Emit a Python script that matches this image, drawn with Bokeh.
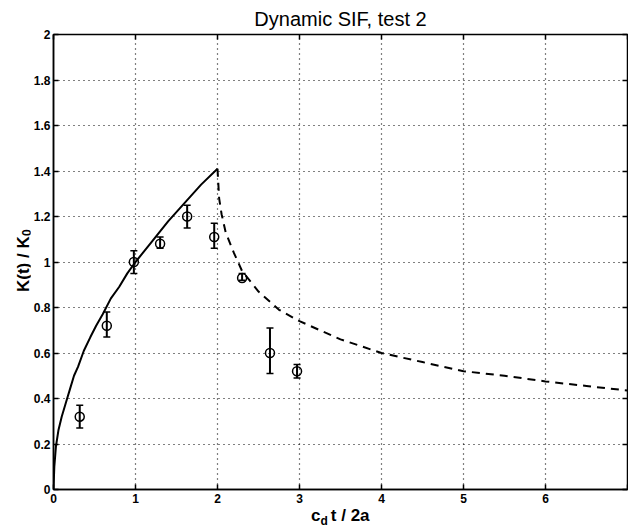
from bokeh.plotting import figure
from bokeh.layouts import row, column
from bokeh.models import (ColumnDataSource, Whisker, TeeHead, FixedTicker, LinearAxis,
                          Range1d, Div)
from bokeh.embed import file_html
from bokeh.resources import INLINE

# ---- data ----
# theoretical curve before t = 2 (solid)
t_solid = [0.0, 0.01, 0.03, 0.06, 0.1, 0.15, 0.2, 0.25, 0.3, 0.37, 0.45, 0.52, 0.6, 0.7, 0.8,
           0.9, 1.0, 1.2, 1.4, 1.6, 1.8, 2.0]
k_solid = [0.0, 0.10, 0.19, 0.26, 0.32, 0.38, 0.44, 0.50, 0.54, 0.61, 0.67, 0.72, 0.77, 0.84, 0.89,
           0.95, 1.0, 1.09, 1.18, 1.26, 1.34, 1.41]
# theoretical curve after t = 2 (dashed)
t_dash = [2.0, 2.02, 2.05, 2.1, 2.2, 2.3, 2.5, 2.75, 3.0, 3.5, 4.0, 4.5, 5.0, 5.5, 6.0, 6.5, 7.0]
k_dash = [1.41, 1.28, 1.21, 1.13, 1.04, 0.96, 0.87, 0.79, 0.74, 0.66, 0.60, 0.56, 0.52, 0.50, 0.475, 0.455, 0.435]
# measured points with error bars
t_meas = [0.32, 0.65, 0.98, 1.30, 1.63, 1.96, 2.30, 2.64, 2.97]
k_meas = [0.32, 0.72, 1.00, 1.08, 1.20, 1.11, 0.93, 0.60, 0.52]
k_lo = [0.27, 0.67, 0.95, 1.06, 1.15, 1.06, 0.92, 0.51, 0.49]
k_hi = [0.37, 0.78, 1.05, 1.11, 1.25, 1.17, 0.95, 0.71, 0.55]

x_ticks = [0, 1, 2, 3, 4, 5, 6, 7]
y_ticks = [0, 0.2, 0.4, 0.6, 0.8, 1.0, 1.2, 1.4, 1.6, 1.8, 2.0]

title_text = "Dynamic SIF, test 2"
x_label_main, x_label_sub, x_label_rest = "c", "d", "t / 2a"
y_label_main, y_label_sub = "K(t) / K", "0"

FONT = "Liberation Sans"
LEFT_W = 30

p = figure(width=628 - LEFT_W, height=509, output_backend="svg", toolbar_location=None,
           x_range=Range1d(0, 7), y_range=Range1d(0, 2),
           min_border_left=23, min_border_right=1, min_border_top=34, min_border_bottom=20,
           title=title_text, margin=0)
p.title.align = "center"
p.title.text_font = FONT
p.title.text_font_size = "20px"
p.title.text_font_style = "normal"
p.title.text_color = "black"
p.title.standoff = 10

p.background_fill_color = "white"
p.border_fill_color = "white"
p.outline_line_color = "black"
p.outline_line_width = 1.5

for ax in (p.xaxis[0], p.yaxis[0]):
    ax.major_tick_in = 5
    ax.major_tick_out = 0
    ax.minor_tick_line_color = None
    ax.axis_line_color = "black"
    ax.axis_line_width = 1.5
    ax.major_tick_line_color = "black"
    ax.major_tick_line_width = 1.5
    ax.major_label_text_font = FONT
    ax.major_label_text_font_style = "bold"
    ax.major_label_text_font_size = "12px"
    ax.major_label_text_color = "black"

p.xaxis.major_label_standoff = 4
p.yaxis.major_label_standoff = 3
p.xaxis.ticker = FixedTicker(ticks=x_ticks)
p.yaxis.ticker = FixedTicker(ticks=y_ticks)
p.xaxis.major_label_overrides = {7: ""}
p.yaxis.major_label_overrides = {0: "0", 1: "1", 2: "2"}

for loc in ("right", "above"):
    ax = LinearAxis(ticker=FixedTicker(ticks=x_ticks if loc == "above" else y_ticks))
    ax.major_tick_in = 5
    ax.major_tick_out = 0
    ax.minor_tick_line_color = None
    ax.axis_line_color = None
    ax.major_tick_line_color = "black"
    ax.major_tick_line_width = 1.5
    ax.major_label_text_font_size = "0px"
    ax.major_label_text_color = None
    ax.major_label_standoff = 0
    p.add_layout(ax, loc)

p.grid.grid_line_color = "black"
p.grid.grid_line_dash = "1 4"
p.grid.grid_line_width = 1.2
p.grid.grid_line_alpha = 1.0

# curves
p.line(t_solid, k_solid, line_color="black", line_width=2)
p.line(t_dash, k_dash, line_color="black", line_width=2, line_dash="8 6")

# measured points
src = ColumnDataSource(dict(t=t_meas, k=k_meas, lo=k_lo, hi=k_hi))
wh = Whisker(source=src, base="t", upper="hi", lower="lo", dimension="height",
             line_color="black", line_width=2,
             upper_head=TeeHead(size=7, line_width=1.5, line_color="black"),
             lower_head=TeeHead(size=7, line_width=1.5, line_color="black"))
p.add_layout(wh)
p.scatter("t", "k", source=src, marker="circle", size=9, fill_color=None,
          line_color="black", line_width=1.5)

# axis labels with real subscripts (HTML text)
font_css = f"font-family:'{FONT}',Arial,sans-serif;font-weight:bold;color:#000;"
xdiv = Div(
    text=(f'<div style="{font_css}font-size:17px;line-height:17px;height:17px;'
          f'white-space:nowrap;padding-left:281px;position:relative;top:-2px;">'
          f'{x_label_main}<span style="font-size:12px;position:relative;top:4px;">'
          f'{x_label_sub}</span><span style="margin-left:3px;">{x_label_rest}</span></div>'),
    width=628 - LEFT_W, height=19, margin=0, styles={"overflow": "visible"})
ydiv = Div(
    text=(f'<div style="padding-top:220px;padding-left:17px;">'
          f'<div style="{font_css}font-size:17px;line-height:14px;width:14px;height:72px;'
          f'writing-mode:vertical-rl;transform:rotate(180deg);white-space:nowrap;">'
          f'{y_label_main}<span style="font-size:12px;position:relative;left:-3px;">'
          f'{y_label_sub}</span></div></div>'),
    width=LEFT_W, height=528, margin=0, styles={"overflow": "visible"})

layout = row(ydiv, column(p, xdiv, spacing=0, margin=0), spacing=0, margin=0)

open("out.html", "w").write(file_html(layout, INLINE))
